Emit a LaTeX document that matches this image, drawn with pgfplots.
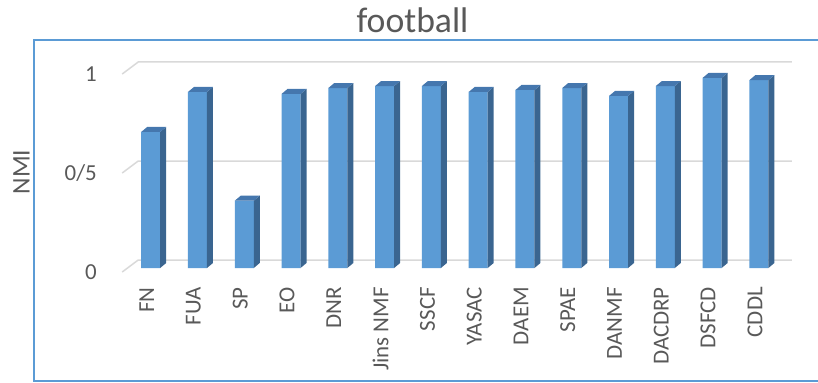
\documentclass[border=0pt]{standalone}
\usepackage{pgfplots}
\pgfplotsset{compat=1.18}
\usepackage{pgfplotstable}
\usepackage{fontspec}
\setmainfont{Carlito}
\definecolor{barfront}{HTML}{5B9BD5}
\definecolor{barside}{HTML}{3A6590}
\definecolor{bartop}{HTML}{4577AE}
\definecolor{gridc}{HTML}{D9D9D9}
\definecolor{txt}{HTML}{595959}
\pgfplotstableread{
x v
0 0.687
1 0.889
2 0.340
3 0.879
4 0.909
5 0.919
6 0.919
7 0.889
8 0.899
9 0.909
10 0.869
11 0.919
12 0.960
13 0.949
}\data
\begin{document}
\begin{tikzpicture}
\path[use as bounding box] (-127.3bp,-115bp) rectangle (690.7bp,268bp);
\begin{axis}[
  at={(0bp,-9.9bp)}, anchor=south west,
  scale only axis, width=655bp, height=207.9bp,
  xmin=-0.5, xmax=13.5, ymin=-0.05, ymax=1,
  clip=false,
  axis line style={draw=none},
  major tick style={draw=none},
  /pgf/number format/assume math mode=true,
  xtick={0,...,13},
  xticklabels={FN,FUA,SP,EO,DNR,Jins NMF,SSCF,YASAC,DAEM,SPAE,DANMF,DACDRP,DSFCD,CDDL},
  ytick={-0.0202,0.4798,0.9798},
  yticklabels={0,0/5,1},
  xticklabel style={xshift=-4bp, yshift=-9.1bp, rotate=90, anchor=east, inner sep=0pt, font=\fontsize{23}{27}\selectfont, text=txt},
  yticklabel style={anchor=east, inner sep=0pt, xshift=-30.3bp, font=\fontsize{23}{27}\selectfont, text=txt},
]
% gridlines
\pgfplotsinvokeforeach{0,0.5,1}{
  \pgfmathsetmacro\ya{#1-0.0202}
  \pgfmathsetmacro\yb{#1+0.0404}
  \edef\temp{\noexpand\addplot[gridc, line width=1.5bp, forget plot] coordinates {(-0.609,\ya) (-0.267,\yb) (13.705,\yb)};}
  \temp
}
% front faces
\addplot[ybar, bar width=19bp, bar shift=0pt, fill=barfront, draw=none] table[x=x, y=v] {\data};
% sides and tops
\pgfplotsinvokeforeach{0,...,13}{
  \pgfplotstablegetelem{#1}{v}\of\data
  \let\val\pgfplotsretval
  \pgfmathsetmacro\xl{#1-0.203}
  \pgfmathsetmacro\xr{#1+0.203}
  \pgfmathsetmacro\xlb{#1-0.203+0.128}
  \pgfmathsetmacro\xrb{#1+0.203+0.128}
  \pgfmathsetmacro\vt{\val+0.0253}
  \edef\temp{\noexpand\addplot[fill=barside, draw=none, forget plot] coordinates {(\xr,0) (\xrb,0.0253) (\xrb,\vt) (\xr,\val)} -- cycle;
  \noexpand\addplot[fill=bartop, draw=none, forget plot] coordinates {(\xl,\val) (\xlb,\vt) (\xrb,\vt) (\xr,\val)} -- cycle;}
  \temp
}
\end{axis}
\draw[barfront, line width=2bp] (-93.3bp,-113bp) rectangle (700bp,228bp);
\node[anchor=base, text=txt, font=\fontsize{35.8}{40}\selectfont, inner sep=0pt] at (285.2bp,235bp) {football};
\node[rotate=90, text=txt, font=\fontsize{25.5}{30}\selectfont, inner sep=0pt] at (-105.8bp,96bp) {NMI};
\end{tikzpicture}
\end{document}
